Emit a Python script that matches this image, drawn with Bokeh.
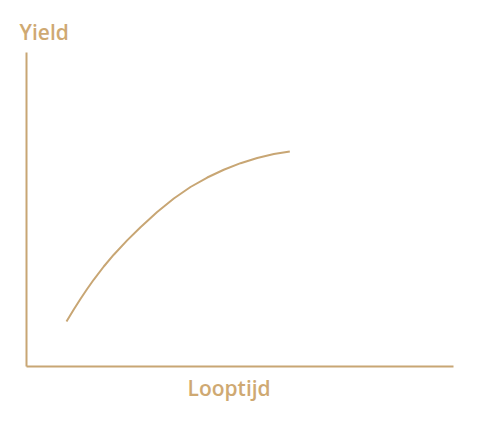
from bokeh.plotting import figure
from bokeh.models import Range1d, LinearAxis, FixedTicker, Title
from bokeh.embed import file_html
from bokeh.resources import INLINE

# Data: schematic yield curve (maturity in years, yield in %)
maturity = [2.81, 3.32, 3.79, 4.26, 4.73, 5.43, 6.13, 7.07, 8.01, 9.18, 10.35,
            11.52, 12.70, 13.86, 15.04, 16.21, 17.38, 18.50]
yields = [0.860, 1.089, 1.290, 1.481, 1.662, 1.911, 2.136, 2.410, 2.662, 2.952,
          3.210, 3.430, 3.611, 3.760, 3.885, 3.984, 4.059, 4.108]
x_label = "Looptijd"
y_label = "Yield"

COLOR = "#c8a674"
TEXT_COLOR = "#cfa972"
FONT = "Open Sans SemiBold"

p = figure(width=479, height=425, output_backend="svg", toolbar_location=None,
           x_range=Range1d(0, 30), y_range=Range1d(0, 6),
           x_axis_location=None, y_axis_location=None,
           min_border_left=26, min_border_right=26,
           min_border_top=52, min_border_bottom=59)
p.grid.visible = False
p.outline_line_color = None
p.background_fill_color = "white"
p.border_fill_color = "white"

xaxis = LinearAxis(ticker=FixedTicker(ticks=[]),
                   axis_line_color=COLOR, axis_line_width=2,
                   major_tick_line_color=None, minor_tick_line_color=None,
                   major_tick_out=0, major_tick_in=0, minor_tick_out=0, minor_tick_in=0,
                   major_label_standoff=0)
p.add_layout(xaxis, "below")

yaxis = LinearAxis(ticker=FixedTicker(ticks=[]),
                   axis_line_color=COLOR, axis_line_width=2,
                   major_tick_line_color=None, minor_tick_line_color=None,
                   major_tick_out=0, major_tick_in=0, minor_tick_out=0, minor_tick_in=0,
                   major_label_standoff=0)
p.add_layout(yaxis, "left")

title = Title(text=y_label, align="left", offset=-7, standoff=13,
              text_color=TEXT_COLOR, text_font=FONT, text_font_size="21px",
              text_font_style="normal")
p.add_layout(title, "above")

xtitle = Title(text=x_label, align="left", offset=161, standoff=11,
               text_color=TEXT_COLOR, text_font=FONT, text_font_size="21px",
               text_font_style="normal")
p.add_layout(xtitle, "below")

p.line(maturity, yields, line_color=COLOR, line_width=2)

open("out.html", "w").write(file_html(p, INLINE))
